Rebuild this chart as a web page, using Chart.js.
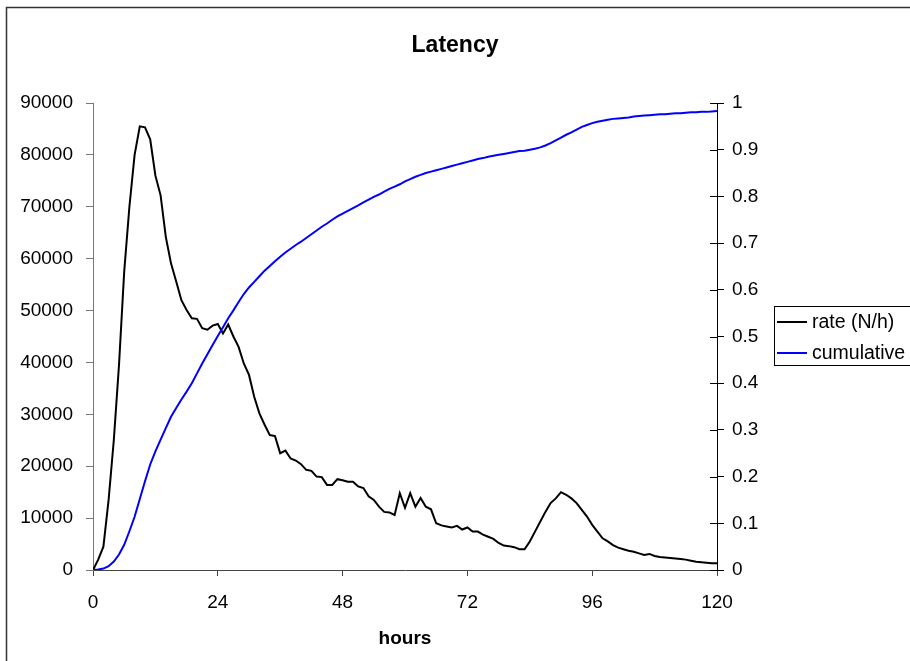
<!DOCTYPE html>
<html>
<head>
<meta charset="utf-8">
<title>Latency</title>
<script src="https://cdn.jsdelivr.net/npm/chart.js@4/dist/chart.umd.min.js"></script>
<style>
  html, body { margin: 0; padding: 0; background: #fff; }
  #wrap { position: relative; width: 910px; height: 661px; }
</style>
</head>
<body>
<div id="wrap"><canvas id="chart" width="910" height="661"></canvas></div>
<script>
// values, one per hour
const hours = [
  0, 1, 2, 3, 4, 5, 6, 7, 8, 9, 10, 11, 12, 13, 14, 15, 16, 17, 18, 19, 20, 21, 22, 23,
  24, 25, 26, 27, 28, 29, 30, 31, 32, 33, 34, 35, 36, 37, 38, 39, 40, 41, 42, 43, 44, 45, 46, 47,
  48, 49, 50, 51, 52, 53, 54, 55, 56, 57, 58, 59, 60, 61, 62, 63, 64, 65, 66, 67, 68, 69, 70, 71,
  72, 73, 74, 75, 76, 77, 78, 79, 80, 81, 82, 83, 84, 85, 86, 87, 88, 89, 90, 91, 92, 93, 94, 95,
  96, 97, 98, 99, 100, 101, 102, 103, 104, 105, 106, 107, 108, 109, 110, 111, 112, 113, 114, 115, 116, 117, 118, 119,
  120
];

const rate = [
  0, 2000, 4500, 13500, 25000, 39500, 57500, 70000, 80000, 85500, 85300, 83000,
  76000, 72200, 64200, 59100, 55600, 52000, 50100, 48500, 48400, 46600, 46300, 47100,
  47400, 45600, 47300, 45000, 43000, 39800, 37600, 33400, 30200, 28000, 26000, 25800,
  22500, 23000, 21500, 21100, 20400, 19300, 19100, 18000, 17900, 16400, 16400, 17500,
  17300, 17000, 17000, 16100, 15800, 14200, 13500, 12200, 11200, 11100, 10600, 14800,
  12000, 14800, 12200, 13900, 12200, 11700, 9000, 8600, 8400, 8200, 8500, 7800,
  8200, 7400, 7400, 6800, 6400, 6000, 5200, 4700, 4600, 4400, 4000, 4000,
  5500, 7400, 9300, 11200, 12900, 13800, 15000, 14500, 13800, 12900, 11600, 10300,
  8700, 7400, 6100, 5500, 4800, 4300, 4000, 3700, 3500, 3200, 2900, 3100,
  2700, 2500, 2400, 2300, 2200, 2100, 2000, 1800, 1600, 1500, 1400, 1300,
  1300
];

const cumulative = [
  0, 0.001, 0.003, 0.008, 0.018, 0.033, 0.054, 0.083, 0.114, 0.152, 0.19, 0.226,
  0.254, 0.279, 0.304, 0.328, 0.347, 0.365, 0.382, 0.4, 0.421, 0.442, 0.462, 0.482,
  0.501, 0.52, 0.539, 0.556, 0.574, 0.591, 0.605, 0.617, 0.629, 0.641, 0.651, 0.661,
  0.671, 0.68, 0.688, 0.696, 0.703, 0.711, 0.719, 0.727, 0.735, 0.742, 0.75, 0.757,
  0.763, 0.769, 0.775, 0.781, 0.787, 0.793, 0.799, 0.804, 0.81, 0.816, 0.821, 0.826,
  0.832, 0.837, 0.842, 0.846, 0.85, 0.853, 0.856, 0.859, 0.862, 0.865, 0.868, 0.871,
  0.874, 0.877, 0.88, 0.882, 0.885, 0.887, 0.889, 0.891, 0.893, 0.895, 0.897, 0.898,
  0.9, 0.902, 0.905, 0.909, 0.914, 0.92, 0.926, 0.932, 0.937, 0.943, 0.949, 0.953,
  0.957, 0.96, 0.962, 0.964, 0.966, 0.967, 0.968, 0.969, 0.971, 0.972, 0.973, 0.974,
  0.975, 0.976, 0.976, 0.977, 0.978, 0.978, 0.979, 0.98, 0.98, 0.981, 0.981, 0.982,
  0.983
];

const seriesNames = ['rate (N/h)', 'cumulative'];
const seriesColors = ['#000000', '#0000ff'];

const FONT = "'Liberation Sans', Arial, sans-serif";
Chart.defaults.font.family = FONT;
Chart.defaults.color = '#000';

function toPoints(ys) {
  return hours.map((h, i) => ({ x: h, y: ys[i] }));
}

// inner half of the right axis ticks, the legend box and the outer frame
const extras = {
  id: 'extras',
  afterDraw(chart) {
    const { ctx, chartArea } = chart;
    const right = chart.scales.y1;
    ctx.save();
    ctx.strokeStyle = '#000';
    ctx.lineWidth = 1;
    right.ticks.forEach(t => {
      const y = Math.round(right.getPixelForValue(t.value)) + 0.5;
      ctx.beginPath();
      ctx.moveTo(chartArea.right - 7, y);
      ctx.lineTo(chartArea.right, y);
      ctx.stroke();
    });

    // legend
    const bx = 774.5, by = 306.5;
    ctx.strokeRect(bx, by, 150, 59);
    ctx.font = '19.5px ' + FONT;
    ctx.textBaseline = 'middle';
    ctx.textAlign = 'left';
    chart.data.datasets.forEach((ds, i) => {
      const y = 322 + i * 31;
      ctx.strokeStyle = ds.borderColor;
      ctx.lineWidth = 2;
      ctx.beginPath();
      ctx.moveTo(777, y);
      ctx.lineTo(807, y);
      ctx.stroke();
      ctx.fillStyle = '#000';
      ctx.fillText(ds.label, 812, y + 1);
    });

    // outer frame of the chart area object
    ctx.strokeStyle = '#333';
    ctx.lineWidth = 1.5;
    ctx.strokeRect(6.5, 7.5, 1000, 1000);
    ctx.restore();
  }
};

new Chart(document.getElementById('chart'), {
  type: 'line',
  data: {
    datasets: [
      {
        label: seriesNames[0],
        data: toPoints(rate),
        borderColor: seriesColors[0],
        borderWidth: 2,
        pointRadius: 0,
        tension: 0,
        yAxisID: 'y',
        order: 1,
      },
      {
        label: seriesNames[1],
        data: toPoints(cumulative),
        borderColor: seriesColors[1],
        borderWidth: 2,
        pointRadius: 0,
        tension: 0,
        yAxisID: 'y1',
        order: 0,
      },
    ],
  },
  options: {
    responsive: false,
    animation: false,
    layout: { padding: 0 },
    scales: {
      x: {
        type: 'linear',
        min: 0,
        max: 120,
        ticks: { stepSize: 24, font: { size: 19 }, color: '#000', padding: 15, maxRotation: 0 },
        grid: { drawOnChartArea: false, drawTicks: true, tickLength: 6, tickColor: '#444' },
        border: { color: '#444', width: 1 },
        title: { display: true, text: 'hours', font: { size: 19, weight: 'bold' }, color: '#000', padding: { top: 0, bottom: 11 } },
        afterFit(scale) { scale.height = 91; },
      },
      y: {
        position: 'left',
        min: 0,
        max: 90000,
        ticks: { stepSize: 10000, font: { size: 19 }, color: '#000', padding: 13, callback: v => String(v) },
        grid: { drawOnChartArea: false, drawTicks: true, tickLength: 7, tickColor: '#777' },
        border: { color: '#777', width: 1 },
        afterFit(scale) { scale.width = 93; },
      },
      y1: {
        position: 'right',
        min: 0,
        max: 1,
        ticks: { stepSize: 0.1, font: { size: 19 }, color: '#000', padding: 8, callback: v => String(Number(v.toFixed(1))) },
        grid: { drawOnChartArea: false, drawTicks: true, tickLength: 7, tickColor: '#000' },
        border: { color: '#000', width: 1 },
        afterFit(scale) { scale.width = 193; },
      },
    },
    plugins: {
      legend: { display: false },
      tooltip: { enabled: false },
      title: {
        display: true,
        text: 'Latency',
        color: '#000',
        font: { size: 23, weight: 'bold' },
        padding: { top: 32, bottom: 43.4 },
      },
    },
  },
  plugins: [extras],
});
</script>
</body>
</html>
